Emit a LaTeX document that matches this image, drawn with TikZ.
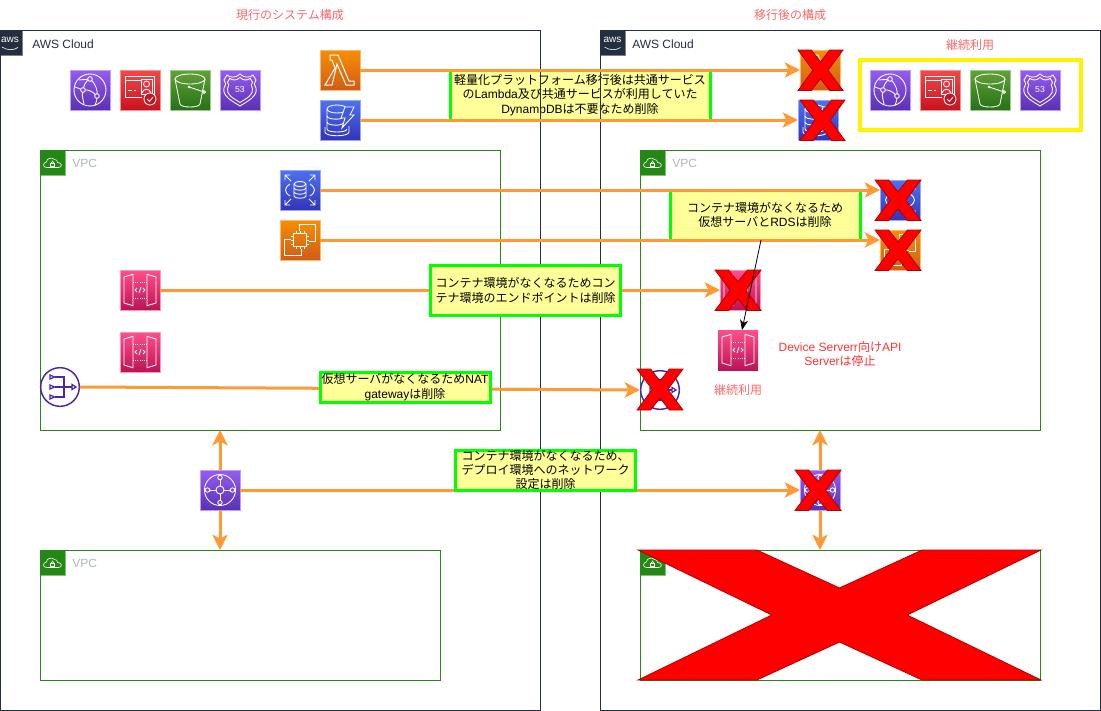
\documentclass[tikz,border=0pt]{standalone}
\usepackage{fontspec}
\usepackage{xcolor}
\usetikzlibrary{arrows.meta}

\setmainfont{Noto Sans CJK JP}
\newfontfamily\lat{Liberation Sans}

\definecolor{awsdark}{HTML}{232F3E}
\definecolor{vpcgreen}{HTML}{248814}
\definecolor{vpcgray}{HTML}{AAB7B8}
\definecolor{linkorange}{HTML}{FF9933}
\definecolor{notefill}{HTML}{FFFF99}
\definecolor{notegreen}{HTML}{00FF00}
\definecolor{softred}{HTML}{FF6666}
\definecolor{plainred}{HTML}{FF3333}
\definecolor{crossedge}{HTML}{B20000}
\definecolor{natpurple}{HTML}{4D27AA}
\definecolor{orangetop}{HTML}{F78E04}
\definecolor{orangelow}{HTML}{D05C17}
\definecolor{bluetop}{HTML}{4D72F3}
\definecolor{bluelow}{HTML}{3334B9}
\definecolor{purpletop}{HTML}{945DF2}
\definecolor{purplelow}{HTML}{5A30B5}
\definecolor{redtop}{HTML}{F54749}
\definecolor{redlow}{HTML}{C7131F}
\definecolor{greentop}{HTML}{60A337}
\definecolor{greenlow}{HTML}{277116}
\definecolor{pinktop}{HTML}{FF4F8B}
\definecolor{pinklow}{HTML}{BC1356}

\tikzset{
  labeltext/.style={font=\fontsize{9pt}{10.8pt}\selectfont, align=center, inner sep=0pt},
  iconbox/.style 2 args={minimum size=30pt, inner sep=0pt, outer sep=0pt, top color=#1, bottom color=#2, draw=#1!60!white, line width=0.6pt},
  lambdaicon/.style={iconbox={orangetop}{orangelow}},
  bluesicon/.style={iconbox={bluetop}{bluelow}},
  purpleicon/.style={iconbox={purpletop}{purplelow}},
  redicon/.style={iconbox={redtop}{redlow}},
  greenicon/.style={iconbox={greentop}{greenlow}},
  pinkicon/.style={iconbox={pinktop}{pinklow}},
  natcircle/.style={circle, minimum size=29pt, inner sep=0pt, outer sep=0.5pt, draw=natpurple, fill=white, line width=1.1pt},
  framebox/.style={rectangle, inner sep=0pt, outer sep=0pt, line width=0.75pt},
  cloudbox/.style={framebox, draw=awsdark},
  vpcbox/.style={framebox, draw=vpcgreen},
  vpctab/.style={minimum size=18.75pt, inner sep=0pt, outer sep=0pt, fill=vpcgreen, draw=vpcgreen!55!white, line width=0.6pt},
  awstab/.style={minimum size=18.75pt, inner sep=0pt, outer sep=0pt, fill=awsdark, draw=awsdark!60!white, line width=0.6pt},
  notebox/.style={labeltext, framebox, fill=notefill, draw=notegreen, line width=2.25pt},
  link/.style={draw=linkorange, line width=2.25pt},
  linkarrow/.style={link, -{Stealth[length=11.5pt, width=11.5pt, inset=3pt]}},
  glyph/.style={draw=white, line width=0.65pt},
  % Icon drawings, in pixels round the middle of the icon
  lambdaglyph/.pic={
    \draw[glyph, line width=0.75pt] (-10,-15) -- (-2,-15) -- (9,11) -- (14,11) -- (14,15) -- (6,15) -- (-3,-6) -- (-8,15) -- (-15,15) -- (-5,-2) -- (-8,-10) -- (-10,-10) -- cycle;
  },
  dynamoglyph/.pic={
    \draw[glyph] (-3,-11) ellipse (10 and 4);
    \draw[glyph] (-13,-11) -- (-13,9) .. controls (-13,13) and (7,13) .. (7,9);
    \draw[glyph] (-13,-4) .. controls (-13,0) and (3,0) .. (3,-3);
    \draw[glyph] (-13,2) .. controls (-13,6) and (3,6) .. (3,3);
    \draw[glyph] (-15,7) -- (-15,12) .. controls (-15,17) and (9,17) .. (9,12) -- (9,6);
    \draw[glyph, fill=bluetop!60!bluelow] (5,-13) -- (14,-13) -- (10,-5) -- (14,-5) -- (2,8) -- (5,-2) -- (1,-2) -- cycle;
  },
  rdsglyph/.pic={
    \draw[glyph] (0,-6) ellipse (6 and 2.5);
    \draw[glyph] (-6,-6) -- (-6,6) .. controls (-6,9) and (6,9) .. (6,6) -- (6,-6);
    \draw[glyph] (-6,-2) .. controls (-6,1) and (6,1) .. (6,-2);
    \draw[glyph] (-6,2) .. controls (-6,5) and (6,5) .. (6,2);
    \draw[glyph] (-10,-6) .. controls (-16,-2) and (-16,2) .. (-10,6);
    \draw[glyph] (10,-6) .. controls (16,-2) and (16,2) .. (10,6);
    \draw[glyph] (-15,-15) -- (-9,-9) (-15,-10) -- (-15,-15) -- (-10,-15);
    \draw[glyph] (15,-15) -- (9,-9) (15,-10) -- (15,-15) -- (10,-15);
    \draw[glyph] (-15,15) -- (-9,9) (-15,10) -- (-15,15) -- (-10,15);
    \draw[glyph] (15,15) -- (9,9) (15,10) -- (15,15) -- (10,15);
  },
  ec2glyph/.pic={
    \draw[glyph, line width=0.9pt] (-6.5,-6.5) rectangle (6.5,6.5);
    \draw[glyph] (-4,-6.5) -- (-4,-9) (0,-6.5) -- (0,-9) (4,-6.5) -- (4,-9);
    \draw[glyph] (-4,6.5) -- (-4,9) (0,6.5) -- (0,9) (4,6.5) -- (4,9);
    \draw[glyph] (-6.5,-4) -- (-9,-4) (-6.5,0) -- (-9,0) (-6.5,4) -- (-9,4);
    \draw[glyph] (6.5,-4) -- (9,-4) (6.5,0) -- (9,0) (6.5,4) -- (9,4);
    \draw[glyph] (-1,-9) -- (-1,-15.5) -- (15.5,-15.5) -- (15.5,1) -- (9,1);
    \draw[glyph] (-9,-1) -- (-15.5,-1) -- (-15.5,15.5) -- (1,15.5) -- (1,9);
  },
  apiglyph/.pic={
    \draw[glyph] (-16,-13) -- (-7,-15.7) -- (-7,15.7) -- (-16,13) -- cycle;
    \draw[glyph] (16,-13) -- (7,-15.7) -- (7,15.7) -- (16,13) -- cycle;
    \draw[glyph, densely dotted] (-7,-8) -- (7,-8) (-7,8) -- (7,8);
    \draw[glyph] (-3,-2) -- (-5,0) -- (-3,2) (3,-2) -- (5,0) -- (3,2) (1,-3) -- (-1,3);
  },
  cfglyph/.pic={
    \draw[glyph] (0,0) circle (16);
    \draw[glyph] (0,-11) .. controls (-5,-9) and (-6,-4) .. (-7,0) .. controls (-8,5) .. (-6,14);
    \draw[glyph] (0,-11) .. controls (6,-6) and (8,1) .. (7,6) .. controls (7,10) .. (5,15);
    \draw[glyph] (-7,0) .. controls (-1,-1) and (3,2) .. (7,6);
    \draw[glyph] (-15,-3) -- (-7,0) (-11,-10) -- (0,-11);
    \draw[glyph, fill=purpletop!70!purplelow] (0,-11) circle (2.3);
    \draw[glyph, fill=purpletop!50!purplelow] (-7,0) circle (2.3);
    \draw[glyph, fill=purpletop!30!purplelow] (7,6) circle (2.3);
  },
  acmglyph/.pic={
    \draw[glyph] (-15,-14) -- (14,-14) -- (14,6);
    \draw[glyph] (-15,-14) -- (-15,7) -- (2,7);
    \draw[glyph] (-15,-10) -- (1,-10);
    \draw[glyph] (-12,0) -- (-8,0) (-6,0) -- (-4,0);
    \draw[glyph] (1,-11) rectangle (12,4);
    \draw[glyph] (6.5,-6) circle (3);
    \draw[glyph] (2,3) .. controls (3,-2) and (10,-2) .. (11,3);
    \draw[glyph, fill=redlow] (10,9) circle (6);
    \draw[glyph] (7,9) -- (9.5,11.5) -- (13,7);
  },
  bucketglyph/.pic={
    \draw[glyph] (0,-11) ellipse (15 and 5);
    \draw[glyph] (-15,-11) -- (-10,14) .. controls (-9,18) and (9,18) .. (10,14) -- (15,-11);
    \draw[glyph] (-1,-3) -- (14,2);
    \draw[glyph, fill=white] (-1,-3) circle (0.8);
    \draw[glyph] (14,2) circle (1.4);
  },
  shieldglyph/.pic={
    \draw[glyph] (0,-16) .. controls (4,-12) and (10,-12) .. (13,-15) -- (16,-10) .. controls (14,-6) .. (16,-2) .. controls (18,6) and (8,11) .. (0,16) .. controls (-8,11) and (-18,6) .. (-16,-2) .. controls (-14,-6) .. (-16,-10) -- (-13,-15) .. controls (-10,-12) and (-4,-12) .. cycle;
    \draw[glyph, scale=0.78] (0,-16) .. controls (4,-12) and (10,-12) .. (13,-15) -- (16,-10) .. controls (14,-6) .. (16,-2) .. controls (18,6) and (8,11) .. (0,16) .. controls (-8,11) and (-18,6) .. (-16,-2) .. controls (-14,-6) .. (-16,-10) -- (-13,-15) .. controls (-10,-12) and (-4,-12) .. cycle;
    \node[text=white, font=\lat\fontsize{6.5pt}{7pt}\selectfont, inner sep=0pt] (num) at (0,-0.5) {53};
  },
  tgwglyph/.pic={
    \draw[glyph] (0,0) circle (15.5);
    \draw[glyph] (0,0) circle (4);
    \draw[glyph] (-12,0) -- (-4,0) (4,0) -- (12,0) (0,-12) -- (0,-4) (0,4) -- (0,12);
    \draw[glyph, fill=purpletop!60!purplelow] (-12.5,0) circle (2.2) (12.5,0) circle (2.2) (0,-12.5) circle (2.2) (0,12.5) circle (2.2);
  },
  natglyph/.pic={
    \draw[natpurple, line width=0.95pt] (-10,-12) -- (-5.5,-10) -- (-10,-8) -- cycle (-10,-2) -- (-5.5,0) -- (-10,2) -- cycle (-10,8) -- (-5.5,10) -- (-10,12) -- cycle;
    \draw[natpurple, line width=0.95pt] (-5.5,-10) -- (4,-10) -- (4,10) -- (-5.5,10) (-5.5,0) -- (12,0);
    \draw[natpurple, line width=0.95pt] (12,-2.5) -- (16,0) -- (12,2.5) -- cycle;
  },
  vpcglyph/.pic={
    \draw[draw=white, line width=0.45pt] (-6,5) .. controls (-10,5) and (-10,0) .. (-6,-0.5) .. controls (-6,-4) and (-1,-6) .. (2,-3) .. controls (4,-3) and (5,-2) .. (5,0) .. controls (10,0) and (10,5) .. (6,5) -- cycle;
    \draw[draw=white, line width=0.45pt] (-2,0.5) rectangle (2,3.5);
    \draw[draw=white, line width=0.45pt] (-1.2,0.5) .. controls (-1.2,-2) and (1.2,-2) .. (1.2,0.5);
  },
  awsglyph/.pic={
    \node[text=white, font=\lat\fontsize{7.5pt}{8pt}\selectfont, inner sep=0pt] (word) at (0,-2.5) {aws};
    \draw[white, line width=0.45pt] (-8,4.5) .. controls (-3,8) and (4,8) .. (8,5);
  }
}

% Red cross, #1 #2 is its top left corner and #3 #4 its size
\newcommand{\crossmark}[4]{
  \begin{scope}[shift={(#1,#2)}, xscale=#3, yscale=#4]
    \draw[fill=red, draw=crossedge, line width=0.6pt] (0,0) -- (0.295,0) -- (0.5,0.292) -- (0.705,0) -- (1,0) -- (0.668,0.5) -- (1,1) -- (0.705,1) -- (0.5,0.708) -- (0.295,1) -- (0,1) -- (0.332,0.5) -- cycle;
  \end{scope}
}

\begin{document}
\begin{tikzpicture}[x=0.75pt, y=-0.75pt]
  \useasboundingbox (0,0) rectangle (1101,711);

  % Draw the note that stays below the frames
  \node[notebox, minimum width=195pt, minimum height=37.5pt] (note1) at (580,95) {軽量化プラットフォーム移行後は共通サービス\\の{\lat Lambda}及び共通サービスが利用していた\\{\lat DynampDB}は不要なため削除};
  \node[notebox, minimum width=142.5pt, minimum height=37.5pt] (note2) at (765,215) {コンテナ環境がなくなるため\\仮想サーバと{\lat RDS}は削除};

  % Draw the titles
  \node[labeltext, text=softred] (title1) at (290,15) {現行のシステム構成};
  \node[labeltext, text=softred] (title2) at (790,15) {移行後の構成};

  % Draw the two clouds
  \node[awstab] (awstab1) at (9.9,42.5) {};
  \node[awstab] (awstab2) at (612.5,42.5) {};
  \node[cloudbox, minimum width=405pt, minimum height=510pt] (cloud1) at (270.5,370) {};
  \node[cloudbox, minimum width=375pt, minimum height=510pt] (cloud2) at (850,370) {};
  \pic at (awstab1) {awsglyph};
  \pic at (awstab2) {awsglyph};
  \node[labeltext, text=awsdark, anchor=west] (cloudname1) at (32,44) {\lat AWS Cloud};
  \node[labeltext, text=awsdark, anchor=west] (cloudname2) at (632,44) {\lat AWS Cloud};

  % Draw the four VPCs
  \node[vpctab] (tab1) at (52.5,162.5) {};
  \node[vpctab] (tab2) at (52.5,562.5) {};
  \node[vpctab] (tab3) at (652.5,162.5) {};
  \node[vpctab] (tab4) at (652.5,562.5) {};
  \node[vpcbox, minimum width=345pt, minimum height=210pt] (vpc1) at (270,290) {};
  \node[vpcbox, minimum width=300pt, minimum height=97.5pt] (vpc2) at (240,615) {};
  \node[vpcbox, minimum width=300pt, minimum height=210pt] (vpc3) at (840,290) {};
  \node[vpcbox, minimum width=300pt, minimum height=97.5pt] (vpc4) at (840,615) {};
  \pic at (tab1) {vpcglyph};
  \pic at (tab2) {vpcglyph};
  \pic at (tab3) {vpcglyph};
  \pic at (tab4) {vpcglyph};
  \node[labeltext, text=vpcgray, anchor=west] (vpcname1) at (72,163.5) {\lat VPC};
  \node[labeltext, text=vpcgray, anchor=west] (vpcname2) at (72,563.5) {\lat VPC};
  \node[labeltext, text=vpcgray, anchor=west] (vpcname3) at (672,163.5) {\lat VPC};

  % Draw the icons of the current system
  \node[purpleicon] (cf1) at (90,90) {};
  \node[redicon] (acm1) at (140,90) {};
  \node[greenicon] (sthree1) at (190,90) {};
  \node[purpleicon] (dns1) at (240,90) {};
  \node[lambdaicon] (lambda1) at (340,70) {};
  \node[bluesicon] (dynamo1) at (340,120) {};
  \node[bluesicon] (rds1) at (300,190) {};
  \node[lambdaicon] (ec1) at (300,240) {};
  \node[pinkicon] (api1) at (140,290) {};
  \node[pinkicon] (api2) at (140,352) {};
  \node[natcircle] (nat1) at (60,387) {};
  \node[purpleicon] (tgw1) at (220,490) {};

  % Draw the icons after the move
  \node[purpleicon] (cf2) at (890,90) {};
  \node[redicon] (acm2) at (940,90) {};
  \node[greenicon] (sthree2) at (990,90) {};
  \node[purpleicon] (dns2) at (1040,90) {};
  \node[lambdaicon] (lambda2) at (820,70) {};
  \node[bluesicon] (dynamo2) at (818,120) {};
  \node[bluesicon] (rds2) at (900,200) {};
  \node[lambdaicon] (ec2) at (900,250) {};
  \node[pinkicon] (api3) at (740,290) {};
  \node[pinkicon, draw=none] (api4) at (738,350) {};
  \node[natcircle] (nat2) at (660,390) {};
  \node[purpleicon] (tgw2) at (820,490) {};

  % Draw the glyphs on the icons
  \pic at (cf1) {cfglyph};
  \pic at (acm1) {acmglyph};
  \pic at (sthree1) {bucketglyph};
  \pic at (dns1) {shieldglyph};
  \pic at (lambda1) {lambdaglyph};
  \pic at (dynamo1) {dynamoglyph};
  \pic at (rds1) {rdsglyph};
  \pic at (ec1) {ec2glyph};
  \pic at (api1) {apiglyph};
  \pic at (api2) {apiglyph};
  \pic at (nat1) {natglyph};
  \pic at (tgw1) {tgwglyph};
  \pic at (cf2) {cfglyph};
  \pic at (acm2) {acmglyph};
  \pic at (sthree2) {bucketglyph};
  \pic at (dns2) {shieldglyph};
  \pic at (lambda2) {lambdaglyph};
  \pic at (dynamo2) {dynamoglyph};
  \pic at (rds2) {rdsglyph};
  \pic at (ec2) {ec2glyph};
  \pic at (api3) {apiglyph};
  \pic at (api4) {apiglyph};
  \pic at (nat2) {natglyph};
  \pic at (tgw2) {tgwglyph};

  % Draw the orange connectors
  \draw[linkarrow] (lambda1.east) -- (lambda2.west);
  \draw[linkarrow] (dynamo1.east) -- (dynamo2.west);
  \draw[linkarrow] (rds1.east) -- (rds1.east -| rds2.west);
  \draw[linkarrow] (ec1.east) -- (ec1.east -| ec2.west);
  \draw[linkarrow] (api1.east) -- (api3.west);
  \draw[linkarrow] (nat1.east) -- (nat2.west);
  \draw[linkarrow] (tgw1.east) -- (tgw2.west);
  \draw[linkarrow] (tgw1.north) -- (tgw1.north |- vpc1.south);
  \draw[linkarrow] (tgw1.south) -- (tgw1.south |- vpc2.north);
  \draw[linkarrow] (tgw2.north) -- (tgw2.north |- vpc3.south);
  \draw[linkarrow] (tgw2.south) -- (tgw2.south |- vpc4.north);

  % Draw the notes over the connectors
  \node[notebox, minimum width=142.5pt, minimum height=37.5pt] (note3) at (525.5,290.5) {コンテナ環境がなくなるためコン\\テナ環境のエンドポイントは削除};
  \node[notebox, minimum width=127.5pt, minimum height=22.5pt] (note4) at (405,387) {仮想サーバがなくなるため{\lat NAT}\\{\lat gateway}は削除};
  \node[notebox, minimum width=135pt, minimum height=30pt] (note5) at (545.5,470) {};
  \node[labeltext] (note5text) at (note5) {コンテナ環境がなくなるため、\\デプロイ環境へのネットワーク\\設定は削除};

  % Draw the box round the services that stay
  \node[framebox, draw=yellow, line width=3pt, minimum width=165.75pt, minimum height=52.5pt] (keepbox) at (970.5,95) {};
  \node[labeltext, text=softred] (keepname1) at (970,45) {継続利用};
  \node[labeltext, text=softred] (keepname2) at (738,390) {継続利用};
  \node[labeltext, text=plainred] (stopname) at (840,354) {{\lat Device Serverr}向け{\lat API}\\{\lat Server}は停止};

  % Draw the red crosses
  \crossmark{798}{50}{45}{40.5}
  \crossmark{800}{100}{45}{40.5}
  \crossmark{875}{180}{46}{40.5}
  \crossmark{875}{230}{46}{40.5}
  \crossmark{715}{270}{46}{40.5}
  \crossmark{637}{369}{46}{41}
  \crossmark{795}{470}{46}{40.5}
  \crossmark{638}{550}{403}{130}

  % Draw the black arrow
  \draw[-{Stealth[length=7.5pt, width=6pt, inset=2pt]}, line width=0.6pt] ([xshift=-3pt]note2.south) -- ([xshift=3pt]api4.north);
\end{tikzpicture}
\end{document}
